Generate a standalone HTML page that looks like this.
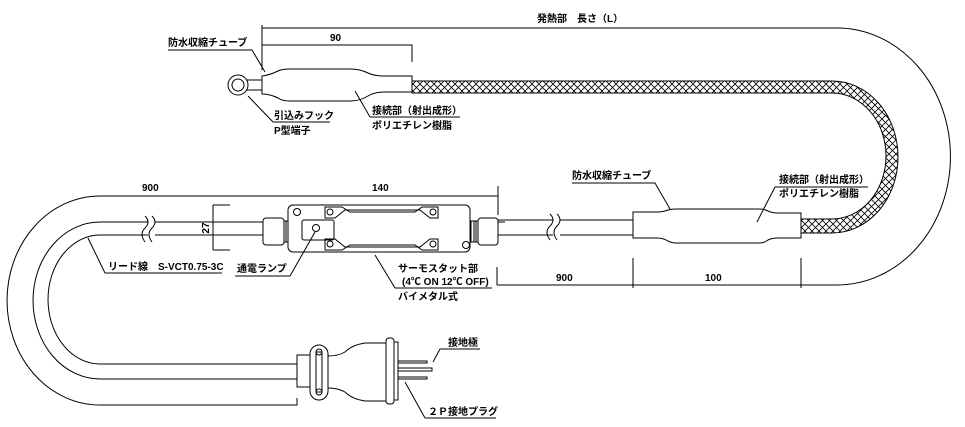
<!DOCTYPE html>
<html><head><meta charset="utf-8"><style>
html,body{margin:0;padding:0;background:#fff;}
svg{display:block}
text{font-family:"Liberation Sans","Noto Sans CJK JP",sans-serif;font-size:10px;font-weight:bold;fill:#000}
</style></head><body>
<svg width="965" height="427" viewBox="0 0 965 427" xmlns="http://www.w3.org/2000/svg">
<defs>
<pattern id="br" width="7" height="7" patternUnits="userSpaceOnUse">
<rect width="7" height="7" fill="#fff"/>
<path d="M0 0L7 7M7 0L0 7" stroke="#000" stroke-width="0.8"/>
</pattern>
</defs>
<g fill="none" stroke="#000" stroke-width="1">
<path d="M262 28 H837 A113 128 0 0 1 837 285 H497"/>
<path d="M262 25 V70"/>
<path d="M262 45 H412 V62"/>
<path d="M412 81 H832 A66 76 0 0 1 832 233 H800 V219 H832 A54 63 0 0 0 832 93 H412 Z" fill="url(#br)"/>
<circle cx="238" cy="85" r="10" fill="#fff"/>
<circle cx="238" cy="85" r="6"/>
<path d="M247 80 H262 M247 90 H262"/>
<path d="M262 76 Q270 75 278 71 Q282 69 290 69 H350 Q360 69 368 73 Q374 76 385 76 H412 V92 H385 Q374 92 368 96 Q360 101 350 101 H290 Q282 101 278 98 Q270 94 262 94 Z" fill="#fff"/>
<path d="M497 220 H553 M497 235 H553 M560 220 H633 M560 235 H633"/>
<path d="M550 214 q6 6 0 12 q-6 6 0 14 M557 214 q6 6 0 12 q-6 6 0 14"/>
<path d="M633 212 H657 Q663 212 668 210 Q672 209 676 209 H760 Q764 209 768 211 Q772 213 778 213 H801 V238 H778 Q772 238 768 240 Q764 243 760 243 H676 Q672 243 668 241 Q663 238 657 238 H633 Z" fill="#fff"/>
<path d="M633 258 V288 M801 258 V288 M497 267 V285"/>
<path d="M262 196 H100 A93 104.5 0 0 0 100 405 H297 V398"/>
<path d="M262 196 H498 M498 186 V215"/>
<path d="M263 222 H155 M148 222 H100 A67 78.5 0 0 0 100 379 H297"/>
<path d="M263 235 H155 M148 235 H100 A52 64.5 0 0 0 100 364 H297"/>
<path d="M145 216 q6 6 0 12 q-6 6 0 14 M152 216 q6 6 0 12 q-6 6 0 14"/>
<path d="M213 205 H230 M213 250 H230 M213 205 V250"/>
<rect x="263" y="218" width="21" height="27" rx="3" fill="#fff"/>
<path d="M284 221 H290 V242 H284 M286 221 V242 M288 221 V242"/>
<rect x="478" y="218" width="20" height="27" rx="3" fill="#fff"/>
<path d="M478 221 H471 V242 H478 M474 221 V242 M476 221 V242"/>
<path d="M498 222 H505 M498 235 H505"/>
<rect x="288" y="205" width="182" height="47" rx="5" fill="#fff"/>
<rect x="302" y="220" width="32" height="20" rx="2"/>
<circle cx="316" cy="228" r="3.5"/>
<circle cx="297" cy="212" r="3.5"/>
<circle cx="466" cy="245" r="3.5"/>
<path d="M325 207 H342 L350 212 H415 L422 207 H438 V218 H430 L420 210 H345 L335 218 H325 Z"/>
<path d="M325 250 H342 L350 245 H415 L422 250 H438 V239 H430 L420 247 H345 L335 239 H325 Z"/>
<circle cx="330" cy="212" r="3"/><circle cx="433" cy="212" r="3"/>
<circle cx="330" cy="244" r="3"/><circle cx="433" cy="244" r="3"/>
<rect x="297" y="355" width="13" height="32" fill="#fff"/>
<rect x="310" y="345" width="18" height="55" rx="9" fill="#fff"/>
<rect x="316" y="352" width="6" height="40"/>
<circle cx="319" cy="352" r="3"/><circle cx="319" cy="392" r="3"/>
<path d="M328 356 Q338 356 345 352 Q352 345 365 343 H386 V401 H365 Q352 399 345 392 Q338 388 328 388"/>
<rect x="386" y="338" width="8" height="66" rx="3" fill="#fff"/>
<path d="M394 342 H398 V400 H394"/>
<path d="M398 361 H427 V363 H398 M398 368 H432 V371 H398 M398 377 H427 V379 H398"/>
<path d="M168 50 H252 L265 72"/>
<path d="M273 122 H330 M273 122 L248 96"/>
<path d="M370 117 H460 M370 117 L355 91"/>
<path d="M572 183 H655 L670 209"/>
<path d="M775 187 H868 M775 187 L757 222"/>
<path d="M105 273 H222 M105 273 L88 238"/>
<path d="M235 276 H290 L315 232"/>
<path d="M395 288 H492 M395 288 L375 255"/>
<path d="M440 349 H480 M440 349 L433 362"/>
<path d="M425 418 H496 M425 418 L405 382"/>
</g>
<text x="537" y="22">発熱部　長さ（L）</text>
<text x="330" y="41">90</text>
<text x="168" y="46">防水収縮チューブ</text>
<text x="274" y="119">引込みフック</text>
<text x="274" y="134">P型端子</text>
<text x="372" y="114">接続部（射出成形）</text>
<text x="372" y="129">ポリエチレン樹脂</text>
<text x="572" y="179">防水収縮チューブ</text>
<text x="779" y="183">接続部（射出成形）</text>
<text x="779" y="197">ポリエチレン樹脂</text>
<text x="142" y="191">900</text>
<text x="372" y="191">140</text>
<text x="209" y="228" transform="rotate(-90 209 228)" text-anchor="middle">27</text>
<text x="108" y="270">リード線　S-VCT0.75-3C</text>
<text x="237" y="272">通電ランプ</text>
<text x="398" y="272">サーモスタット部</text>
<text x="402" y="285">(4℃ ON 12℃ OFF)</text>
<text x="398" y="300">バイメタル式</text>
<text x="556" y="281">900</text>
<text x="705" y="281">100</text>
<text x="448" y="346">接地極</text>
<text x="428" y="415">２Ｐ接地プラグ</text>
</svg>
</body></html>
